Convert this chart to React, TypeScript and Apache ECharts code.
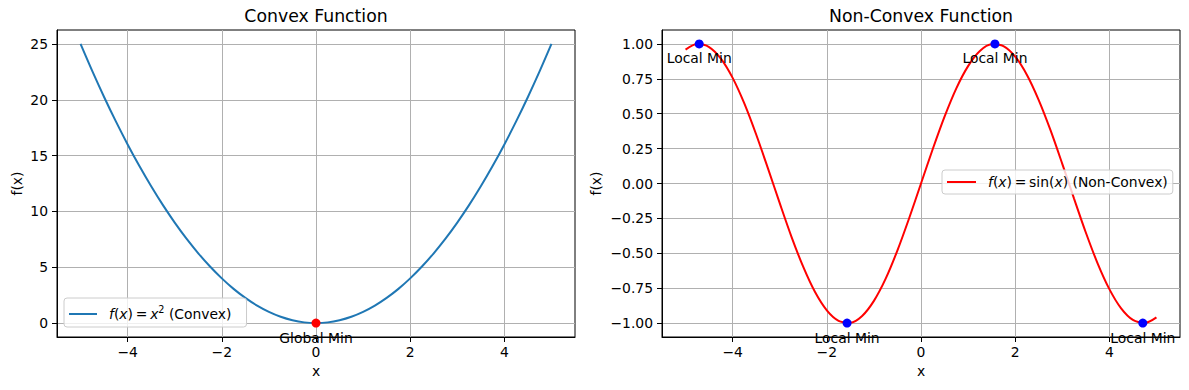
import React, { useEffect, useRef } from "react";
import * as echarts from "echarts";

const FONT = "DejaVu Sans";

const convexX = [-5, -4.75, -4.5, -4.25, -4, -3.75, -3.5, -3.25, -3, -2.75, -2.5, -2.25, -2, -1.75, -1.5, -1.25, -1, -0.75, -0.5, -0.25, 0,
  0.25, 0.5, 0.75, 1, 1.25, 1.5, 1.75, 2, 2.25, 2.5, 2.75, 3, 3.25, 3.5, 3.75, 4, 4.25, 4.5, 4.75, 5];
const convexY = [25, 22.56, 20.25, 18.06, 16, 14.06, 12.25, 10.56, 9, 7.56, 6.25, 5.06, 4, 3.06, 2.25, 1.56, 1, 0.56, 0.25, 0.06, 0,
  0.06, 0.25, 0.56, 1, 1.56, 2.25, 3.06, 4, 5.06, 6.25, 7.56, 9, 10.56, 12.25, 14.06, 16, 18.06, 20.25, 22.56, 25];
const globalMin = [[0, 0]];

// Non-convex: f(x) = sin(x)
const sinX = [-5, -4.75, -4.5, -4.25, -4, -3.75, -3.5, -3.25, -3, -2.75, -2.5, -2.25, -2, -1.75, -1.5, -1.25, -1, -0.75, -0.5, -0.25, 0,
  0.25, 0.5, 0.75, 1, 1.25, 1.5, 1.75, 2, 2.25, 2.5, 2.75, 3, 3.25, 3.5, 3.75, 4, 4.25, 4.5, 4.75, 5];
const sinY = [0.959, 0.999, 0.978, 0.895, 0.757, 0.572, 0.351, 0.108, -0.141, -0.382, -0.598, -0.778, -0.909, -0.984, -0.997, -0.949, -0.841, -0.682, -0.479, -0.247, 0,
  0.247, 0.479, 0.682, 0.841, 0.949, 0.997, 0.984, 0.909, 0.778, 0.598, 0.382, 0.141, -0.108, -0.351, -0.572, -0.757, -0.895, -0.978, -0.999, -0.959];
const localExtremaX = [-4.71, -1.57, 1.57, 4.71];
const localExtremaY = [1, -1, 1, -1];

const xTicks = [-4, -2, 0, 2, 4];
const convexYTicks = [0, 5, 10, 15, 20, 25];
const sinYTicks = [-1, -0.75, -0.5, -0.25, 0, 0.25, 0.5, 0.75, 1];

const fmtMinus = (v: number, d = 0) => (v < 0 ? "\u2212" : "") + Math.abs(v).toFixed(d);

const GRIDS = [
  { left: 57, top: 30, width: 518, height: 307 },
  { left: 662, top: 30, width: 518, height: 307 },
];

const FS = 13.9;

export default function App() {
  const ref = useRef<HTMLDivElement>(null);
  useEffect(() => {
    if (!ref.current) return;
    const chart = echarts.init(ref.current, undefined, { renderer: "svg" });
    const tickLabel = { color: "#000", fontFamily: FONT, fontSize: FS };
    const mkX = (i: number) => ({
      type: "value",
      gridIndex: i,
      min: -5.5,
      max: 5.5,
      name: "x",
      nameLocation: "middle",
      nameGap: 27,
      nameTextStyle: { color: "#000", fontFamily: FONT, fontSize: FS },
      axisLine: { show: true, onZero: false, lineStyle: { color: "#000", width: 1 } },
      axisTick: { show: true, length: 5, inside: false, customValues: xTicks, lineStyle: { color: "#000" } },
      axisLabel: { ...tickLabel, margin: 8, customValues: xTicks, formatter: (v: number) => fmtMinus(v) },
      splitLine: { show: true, lineStyle: { color: "#b0b0b0", width: 1 } },
    });
    const mkY = (i: number, min: number, max: number, ticks: number[], dec: number, gap: number) => ({
      type: "value",
      gridIndex: i,
      min,
      max,
      name: "f(x)",
      nameLocation: "middle",
      nameGap: gap,
      nameRotate: 90,
      nameTextStyle: { color: "#000", fontFamily: FONT, fontSize: FS },
      axisLine: { show: true, onZero: false, lineStyle: { color: "#000", width: 1 } },
      axisTick: { show: true, length: 5, inside: false, customValues: ticks, lineStyle: { color: "#000" } },
      axisLabel: { ...tickLabel, margin: 9, customValues: ticks, formatter: (v: number) => fmtMinus(v, dec) },
      splitLine: { show: true, lineStyle: { color: "#b0b0b0", width: 1 } },
    });
    const labelStyle = {
      show: true,
      position: "bottom",
      distance: 3,
      color: "#000",
      opacity: 1,
      fontFamily: FONT,
      fontSize: FS,
    };
    const richBase = (lh: number) => ({
      i: { fontStyle: "italic", fontFamily: FONT, fontSize: FS, color: "#000", lineHeight: lh },
      n: { fontFamily: FONT, fontSize: FS, color: "#000", lineHeight: lh },
      s: { fontFamily: FONT, fontSize: 9.7, color: "#000", verticalAlign: "top", lineHeight: 10 },
    });
    chart.setOption({
      animation: false,
      backgroundColor: "#fff",
      textStyle: { fontFamily: FONT },
      grid: GRIDS.map((g) => ({ ...g, show: true, borderColor: "#000", borderWidth: 1, backgroundColor: "transparent", containLabel: false })),
      xAxis: [mkX(0), mkX(1)],
      yAxis: [mkY(0, -1.25, 26.25, convexYTicks, 0, 33), mkY(1, -1.1, 1.1, sinYTicks, 2, 59)],
      legend: [
        {
          data: ["convex"],
          left: 64,
          top: 298,
          padding: [6, 15, 6, 5],
          icon: "rect",
          itemWidth: 28,
          itemHeight: 2,
          backgroundColor: "rgba(255,255,255,0.8)",
          borderColor: "#cccccc",
          borderWidth: 1,
          borderRadius: 3,
          formatter: () => "{i|f}{n|(}{i|x}{n|)\u2009=\u2009}{i|x}{s|2}{n| (Convex)}",
          textStyle: { padding: [0, 0, 0, 7], rich: richBase(20) },
        },
        {
          data: ["nonconvex"],
          left: 942,
          top: 170,
          padding: [5, 5, 5, 5],
          icon: "rect",
          itemWidth: 29,
          itemHeight: 2,
          backgroundColor: "rgba(255,255,255,0.8)",
          borderColor: "#cccccc",
          borderWidth: 1,
          borderRadius: 3,
          formatter: () => "{i|f}{n|(}{i|x}{n|)\u2009=\u2009sin(}{i|x}{n|) (Non-Convex)}",
          textStyle: { padding: [0, 0, 0, 7], rich: richBase(16.7) },
        },
      ],
      graphic: [
        { type: "text", x: GRIDS[0].left + GRIDS[0].width / 2, y: 16, style: { text: "Convex Function", align: "center", verticalAlign: "middle", font: `17.3px "${FONT}"`, fill: "#000" } },
        { type: "text", x: GRIDS[1].left + GRIDS[1].width / 2, y: 16, style: { text: "Non-Convex Function", align: "center", verticalAlign: "middle", font: `17.3px "${FONT}"`, fill: "#000" } },
      ],
      series: [
        {
          name: "convex",
          type: "line",
          xAxisIndex: 0,
          yAxisIndex: 0,
          data: convexX.map((x, i) => [x, convexY[i]]),
          showSymbol: false,
          smooth: 0.3,
          itemStyle: { color: "#1f77b4" },
          lineStyle: { color: "#1f77b4", width: 2 },
          z: 3,
        },
        {
          name: "globalmin",
          type: "scatter",
          xAxisIndex: 0,
          yAxisIndex: 0,
          data: globalMin,
          symbolSize: 9,
          itemStyle: { color: "#ff0000", opacity: 1 },
          label: { ...labelStyle, formatter: "Global Min" },
          z: 5,
        },
        {
          name: "nonconvex",
          type: "line",
          xAxisIndex: 1,
          yAxisIndex: 1,
          data: sinX.map((x, i) => [x, sinY[i]]),
          showSymbol: false,
          smooth: 0.3,
          itemStyle: { color: "#ff0000" },
          lineStyle: { color: "#ff0000", width: 2 },
          z: 3,
        },
        {
          name: "localmin",
          type: "scatter",
          xAxisIndex: 1,
          yAxisIndex: 1,
          data: localExtremaX.map((x, i) => [x, localExtremaY[i]]),
          symbolSize: 9,
          itemStyle: { color: "#0000ff", opacity: 1 },
          label: { ...labelStyle, formatter: "Local Min" },
          z: 5,
        },
      ],
    });
    return () => chart.dispose();
  }, []);
  return <div ref={ref} style={{ width: 1189, height: 390, position: "absolute", left: 0, top: 0 }} />;
}
